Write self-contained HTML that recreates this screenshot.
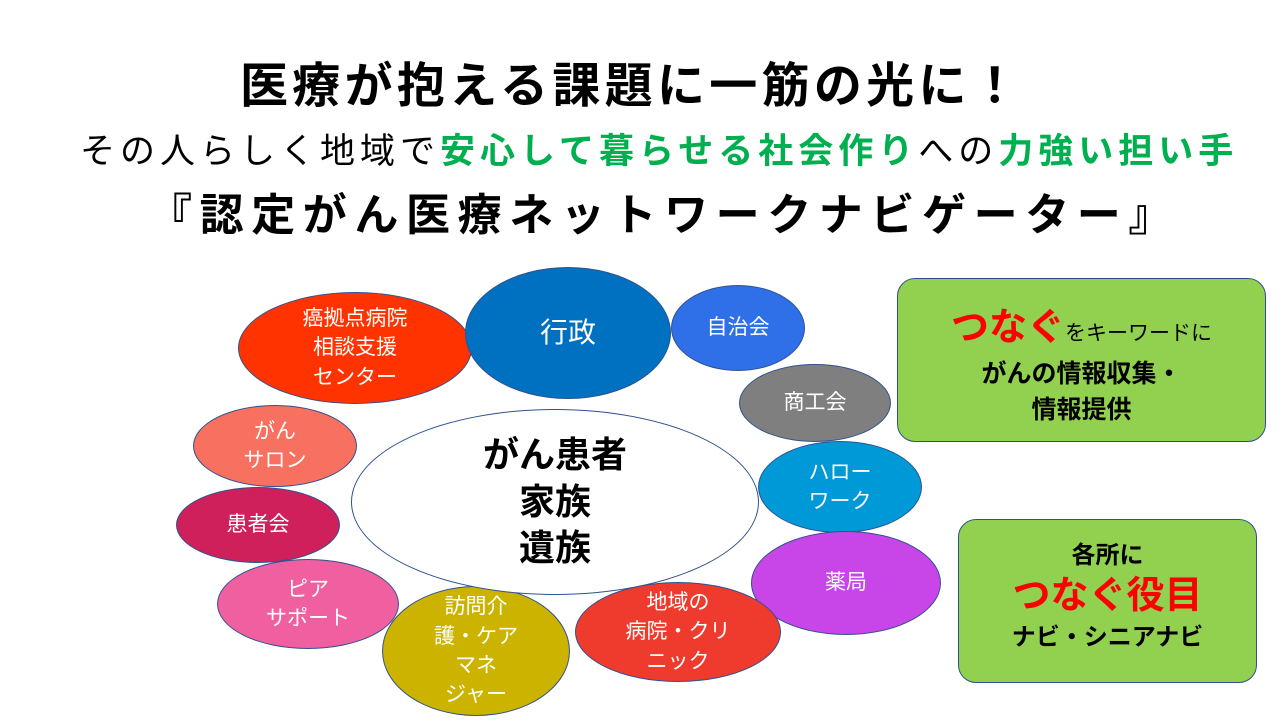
<!DOCTYPE html>
<html><head><meta charset="utf-8"><style>
body{margin:0;width:1280px;height:720px;background:#fff;overflow:hidden;font-family:"Liberation Sans","Noto Sans CJK JP",sans-serif;position:relative}
.t{position:absolute;white-space:nowrap}
.e{position:absolute;border-radius:50%;display:flex;align-items:center;justify-content:center;text-align:center;color:#fff;font-size:21px;line-height:1.4;border:1px solid #2f528f;box-sizing:border-box}
.g{position:absolute;background:#92d050;border:1px solid #2f528f;border-radius:18px;text-align:center;font-weight:bold;box-sizing:border-box}
</style></head><body>
<div class="t" style="left:240px;top:46px;font-size:48px;font-weight:bold;letter-spacing:4.3px">医療が抱える課題に一筋の光に！</div>
<div class="t" style="left:80px;top:123px;font-size:35px;letter-spacing:5px">その人らしく地域で<b style="color:#00b050">安心して暮らせる社会作り</b>への<b style="color:#00b050">力強い担い手</b></div>
<div class="t" style="left:148px;top:179px;font-size:44px;font-weight:bold;letter-spacing:7.6px">『認定がん医療ネットワークナビゲーター』</div>

<div class="e" style="left:238px;top:292px;width:234px;height:112px;background:#ff3300">癌拠点病院<br>相談支援<br>センター</div>
<div class="e" style="left:465px;top:267px;width:206px;height:132px;background:#0070c0;font-size:28px">行政</div>
<div class="e" style="left:671px;top:285px;width:134px;height:86px;background:#2f6fe8">自治会</div>
<div class="e" style="left:739px;top:364px;width:152px;height:78px;background:#7f7f7f">商工会</div>
<div class="e" style="left:758px;top:441px;width:164px;height:92px;background:#0099d8">ハロー<br>ワーク</div>
<div class="e" style="left:751px;top:531px;width:190px;height:104px;background:#c845e8">薬局</div>
<div class="e" style="left:575px;top:582px;width:206px;height:100px;background:#ee3b2e">地域の<br>病院・クリ<br>ニック</div>
<div class="e" style="left:382px;top:586px;width:188px;height:130px;background:#ccb300">訪問介<br>護・ケア<br>マネ<br>ジャー</div>
<div class="e" style="left:217px;top:559px;width:182px;height:90px;background:#f060a0">ピア<br>サポート</div>
<div class="e" style="left:176px;top:487px;width:164px;height:76px;background:#d0205c">患者会</div>
<div class="e" style="left:193px;top:405px;width:164px;height:82px;background:#f87060">がん<br>サロン</div>
<div class="e" style="left:351px;top:409px;width:408px;height:186px;background:#fff;color:#000;font-size:36px;font-weight:bold;line-height:1.3">がん患者<br>家族<br>遺族</div>

<div class="g" style="left:897px;top:278px;width:369px;height:164px;padding-top:22px;font-size:25px;line-height:1.45"><span style="color:#ff0000;font-size:38px">つなぐ</span><span style="font-weight:normal;font-size:21px">をキーワードに</span><br>がんの情報収集・<br>情報提供</div>
<div class="g" style="left:958px;top:519px;width:299px;height:164px;padding-top:18px;font-size:24px;line-height:1.5">各所に<br><span style="color:#ff0000;font-size:38px;line-height:1.2">つなぐ役目</span><br>ナビ・シニアナビ</div>
</body></html>
